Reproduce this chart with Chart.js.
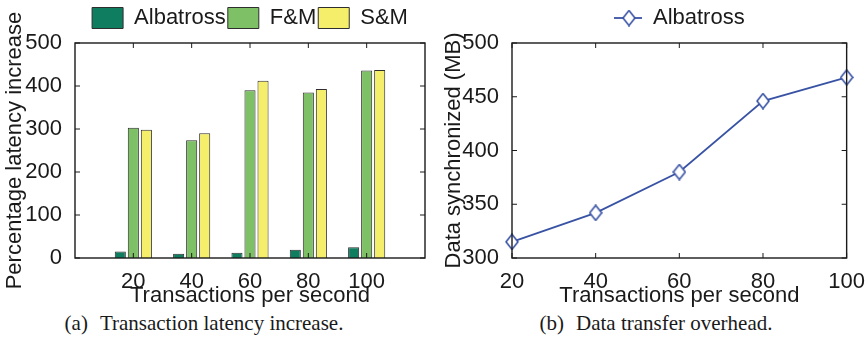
<!DOCTYPE html>
<html>
<head>
<meta charset="utf-8">
<script src="https://cdn.jsdelivr.net/npm/chart.js@4.4.1/dist/chart.umd.min.js"></script>
<style>
  body { margin: 0; background: #fff; width: 868px; height: 347px; overflow: hidden; position: relative; }
  canvas { position: absolute; top: 0; }
  #latency { left: 0; }
  #sync { left: 434px; }
  .caption { position: absolute; top: 312px; font: 21px 'Liberation Serif', 'Times New Roman', serif; line-height: 22px; color: #1a1a1a; white-space: nowrap; transform: translateX(-50%); }
  .caption .gap { display: inline-block; width: 12px; }
</style>
</head>
<body>
<canvas id="latency" width="434" height="310"></canvas>
<canvas id="sync" width="434" height="310"></canvas>
<div class="caption" style="left:204px">(a)<span class="gap"></span>Transaction latency increase.</div>
<div class="caption" style="left:656px">(b)<span class="gap"></span>Data transfer overhead.</div>
<script>
// transactions per second on both x axes
const rates = [20, 40, 60, 80, 100];

// (a) percentage latency increase
const albatrossLatency = [15, 10, 12, 19, 25];
const fmLatency = [303, 274, 390, 385, 436];
const smLatency = [298, 290, 412, 393, 437];
const latencyTicks = [0, 100, 200, 300, 400, 500];

// (b) data synchronized, MB
const syncedMB = [315, 342, 380, 446, 468];
const syncTicks = [300, 350, 400, 450, 500];

Chart.defaults.font.family = "'Liberation Sans', Arial, Helvetica, sans-serif";
Chart.defaults.font.size = 22;
Chart.defaults.color = '#1a1a1a';

const ink = '#1a1a1a';
const blue = '#3953a4';

// fixed legend height so both plot boxes start at the same y
const legendHeight = {
  id: 'legendHeight',
  beforeLayout(chart, args, opts) {
    const lg = chart.legend;
    if (!lg || lg._fixedFit) return;
    const fit = lg.fit;
    lg.fit = function () { fit.call(this); this.height = opts.height; };
    lg._fixedFit = true;
  }
};

// box around the plot with inward tick marks on every side
const frame = {
  id: 'frame',
  afterDatasetsDraw(chart) {
    const { ctx, chartArea: a, scales: { x, y } } = chart;
    const len = 5;
    ctx.save();
    ctx.strokeStyle = ink;
    ctx.lineWidth = 1;
    ctx.beginPath();
    x.ticks.forEach(t => {
      const px = x.getPixelForValue(t.value);
      ctx.moveTo(px, a.bottom); ctx.lineTo(px, a.bottom - len);
      ctx.moveTo(px, a.top); ctx.lineTo(px, a.top + len);
    });
    y.ticks.forEach(t => {
      const py = y.getPixelForValue(t.value);
      ctx.moveTo(a.left, py); ctx.lineTo(a.left + len, py);
      ctx.moveTo(a.right, py); ctx.lineTo(a.right - len, py);
    });
    ctx.stroke();
    ctx.lineWidth = 1.4;
    ctx.strokeRect(a.left, a.top, a.right - a.left, a.bottom - a.top);
    ctx.restore();
  }
};

const pairs = (xs, ys) => ys.map((v, i) => ({ x: xs[i], y: v }));
const fixTicks = vals => s => { s.ticks = vals.map(v => ({ value: v })); };
const noGrid = { display: false };
const noBorder = { display: false };

// hollow diamond marker, a bit taller than wide
function diamond(w, h, lw) {
  const c = document.createElement('canvas');
  c.width = w; c.height = h;
  const g = c.getContext('2d');
  g.strokeStyle = blue; g.fillStyle = '#fff'; g.lineWidth = lw;
  g.beginPath();
  g.moveTo(w / 2, 1); g.lineTo(w - 1, h / 2); g.lineTo(w / 2, h - 1); g.lineTo(1, h / 2);
  g.closePath(); g.fill(); g.stroke();
  return c;
}

// legend sample: line with the marker in the middle
function lineSample(w, h) {
  const c = document.createElement('canvas');
  c.width = w; c.height = h;
  const g = c.getContext('2d');
  g.strokeStyle = blue; g.lineWidth = 1.8;
  g.beginPath(); g.moveTo(0, h / 2); g.lineTo(w, h / 2); g.stroke();
  g.drawImage(diamond(14, 17, 1.6), w / 2 - 7 + 1, h / 2 - 8.5);
  return c;
}

new Chart(document.getElementById('latency'), {
  type: 'bar',
  data: {
    datasets: [
      { label: 'Albatross', data: pairs(rates, albatrossLatency), backgroundColor: '#0f7d60' },
      { label: 'F&M', data: pairs(rates, fmLatency), backgroundColor: '#7dc065' },
      { label: 'S&M', data: pairs(rates, smLatency), backgroundColor: '#f5ee6a' }
    ]
  },
  options: {
    responsive: false,
    animation: false,
    devicePixelRatio: 1,
    layout: { padding: { top: 5, right: 9, left: 0, bottom: 0 } },
    datasets: { bar: { borderColor: '#2e2e2e', borderWidth: 1, categoryPercentage: 0.67, barPercentage: 0.85 } },
    plugins: {
      legend: { fullSize: false, labels: { boxWidth: 31, boxHeight: 21, padding: 2, color: ink } },
      legendHeight: { height: 38 },
      tooltip: { enabled: false }
    },
    scales: {
      x: {
        type: 'linear', min: 0, max: 120, offset: false,
        grid: noGrid, border: noBorder,
        afterBuildTicks: fixTicks(rates),
        afterFit: s => { s.height = 52; },
        ticks: { padding: 3, maxRotation: 0 },
        title: { display: true, text: 'Transactions per second', padding: { top: 0, bottom: 1 } }
      },
      y: {
        min: 0, max: 500,
        grid: noGrid, border: noBorder,
        afterBuildTicks: fixTicks(latencyTicks),
        afterFit: s => { s.width = 75; },
        ticks: { padding: 5 },
        title: { display: true, text: 'Percentage latency increase', padding: { top: 2, bottom: 0 } }
      }
    }
  },
  plugins: [legendHeight, frame]
});

const legendIcon = lineSample(28, 18);

new Chart(document.getElementById('sync'), {
  type: 'line',
  data: {
    datasets: [{
      label: 'Albatross',
      data: pairs(rates, syncedMB),
      borderColor: blue,
      borderWidth: 1.8,
      pointStyle: diamond(14, 17, 1.6),
      pointRadius: 8,
      tension: 0,
      clip: false
    }]
  },
  options: {
    responsive: false,
    animation: false,
    devicePixelRatio: 1,
    layout: { padding: { top: 5, right: 19, left: 0, bottom: 0 } },
    plugins: {
      legend: {
        fullSize: false,
        labels: {
          usePointStyle: true, pointStyleWidth: 28, padding: 2, color: ink,
          generateLabels: () => [{ text: 'Albatross', pointStyle: legendIcon, fontColor: ink, lineWidth: 0, hidden: false, datasetIndex: 0 }]
        }
      },
      legendHeight: { height: 38 },
      tooltip: { enabled: false }
    },
    scales: {
      x: {
        type: 'linear', min: 20, max: 100,
        grid: noGrid, border: noBorder,
        afterBuildTicks: fixTicks(rates),
        afterFit: s => { s.height = 52; },
        ticks: { padding: 3, maxRotation: 0 },
        title: { display: true, text: 'Transactions per second', padding: { top: 0, bottom: 1 } }
      },
      y: {
        min: 300, max: 500,
        grid: noGrid, border: noBorder,
        afterBuildTicks: fixTicks(syncTicks),
        afterFit: s => { s.width = 78; },
        ticks: { padding: 5 },
        title: { display: true, text: 'Data synchronized (MB)', padding: { top: 7, bottom: 0 } }
      }
    }
  },
  plugins: [legendHeight, frame]
});
</script>
</body>
</html>
